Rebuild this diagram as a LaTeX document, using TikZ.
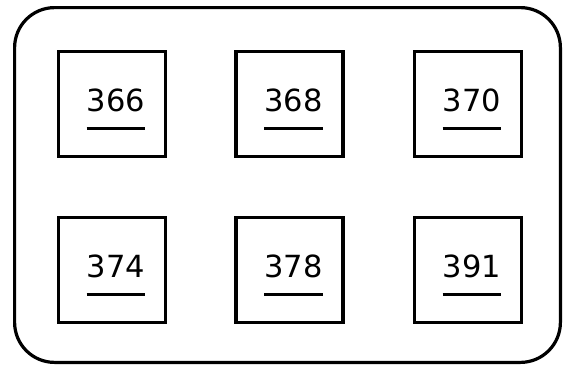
\documentclass[tikz,border=0pt]{standalone}
\usepackage{fontspec}
\usepackage{tikz}
\setsansfont{DejaVu Sans}
\tikzset{
  partbox/.style={draw, line width=3.4pt, minimum width=107pt, minimum height=105pt, inner sep=0pt},
  reflabel/.style={font=\sffamily\fontsize{30.5}{36}\selectfont, inner sep=0pt},
  refline/.style={line width=3pt}
}
\begin{document}
\begin{tikzpicture}[x=1pt,y=-1pt]
\useasboundingbox (0,0) rectangle (563,368);
% housing
\draw[line width=3.2pt, rounded corners=40pt] (14.6,7.6) rectangle (560.4,362.4);
% parts
\foreach \n/\cx/\cy in {366/112/104, 368/289.5/104, 370/468/104, 374/112/270, 378/289.5/270, 391/468/270} {
  \node[partbox] (box\n) at (\cx,\cy) {};
  \node[reflabel, anchor=base] (lbl\n) at (\cx+4,\cy+7) {\n};
  \draw[refline] ([yshift=-17pt]lbl\n.base west) -- ([yshift=-17pt]lbl\n.base east);
}
\end{tikzpicture}
\end{document}
